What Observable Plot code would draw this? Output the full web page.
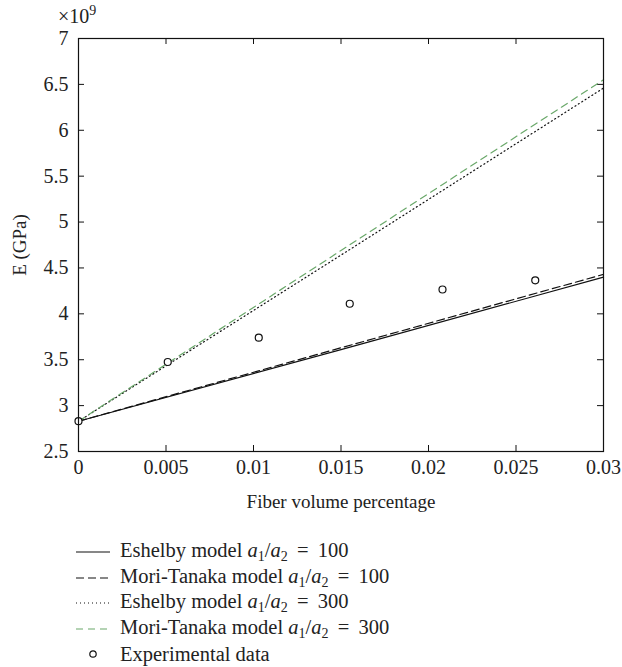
<!DOCTYPE html>
<html>
<head>
<meta charset="utf-8">
<script src="https://cdn.jsdelivr.net/npm/d3@7"></script>
<script src="https://cdn.jsdelivr.net/npm/@observablehq/plot@0.6"></script>
<style>
  body { margin: 0; background: #fff; }
  #wrap { position: relative; width: 622px; height: 667px; font-family: "Liberation Serif", serif; color: #222; overflow: hidden; }
  #wrap svg.plot { position: absolute; left: 0; top: 0; }
  #exp { position: absolute; left: 58px; top: 4px; font-size: 20px; line-height: 1; }
  #exp sup { font-size: 14px; vertical-align: 8px; }
  .row { position: absolute; left: 76px; height: 24px; display: flex; align-items: center; font-size: 20.5px; white-space: nowrap; }
  .row svg { margin-right: 10px; }
  .row sub { font-size: 14px; vertical-align: -4px; }
</style>
</head>
<body>
<div id="wrap"></div>
<script>
// ---- data ----
const xTicks = [0, 0.005, 0.01, 0.015, 0.02, 0.025, 0.03];
const yTicks = [2.5, 3, 3.5, 4, 4.5, 5, 5.5, 6, 6.5, 7];
const modelX = [0, 0.015, 0.03];
const eshelby100 = [2.83, 3.61, 4.40];
const moriTanaka100 = [2.83, 3.63, 4.43];
const eshelby300 = [2.83, 4.64, 6.46];
const moriTanaka300 = [2.83, 4.69, 6.55];
const expX = [0, 0.0051, 0.0103, 0.0155, 0.0208, 0.0261];
const expE = [2.83, 3.475, 3.74, 4.11, 4.265, 4.365];
const seriesLabels = [
  "Eshelby model <i>a</i><sub>1</sub>/<i>a</i><sub>2</sub>&nbsp;&thinsp;=&thinsp;&nbsp;100",
  "Mori-Tanaka model <i>a</i><sub>1</sub>/<i>a</i><sub>2</sub>&nbsp;&thinsp;=&thinsp;&nbsp;100",
  "Eshelby model <i>a</i><sub>1</sub>/<i>a</i><sub>2</sub>&nbsp;&thinsp;=&thinsp;&nbsp;300",
  "Mori-Tanaka model <i>a</i><sub>1</sub>/<i>a</i><sub>2</sub>&nbsp;&thinsp;=&thinsp;&nbsp;300",
  "Experimental data"
];

// ---- styles ----
const styles = [
  {stroke: "#111", dash: null},
  {stroke: "#111", dash: "8,4"},
  {stroke: "#111", dash: "1,3"},
  {stroke: "#6aa86a", dash: "7,5"}
];
const series = [eshelby100, moriTanaka100, eshelby300, moriTanaka300];

const W = 622, H = 530;
const mL = 78, mR = 19, mT = 38, mB = 79;
const innerW = W - mL - mR, innerH = H - mT - mB;

const lineMarks = series.map((vals, i) => {
  const rows = modelX.map((x, j) => ({x, y: vals[j]}));
  return Plot.line(rows, {x: "x", y: "y", stroke: styles[i].stroke, strokeWidth: 1.2,
    strokeDasharray: styles[i].dash});
});

const expRows = expX.map((x, i) => ({x, y: expE[i]}));

const chart = Plot.plot({
  width: W, height: H,
  marginLeft: mL, marginRight: mR, marginTop: mT, marginBottom: mB,
  style: {fontFamily: "Liberation Serif, serif", fontSize: "20px", color: "#222", background: "#fff"},
  x: {domain: [0, 0.03]},
  y: {domain: [2.5, 7]},
  marks: [
    Plot.axisX(xTicks, {tickSize: 0, tickPadding: 8, tickFormat: d => String(d), label: null, fontSize: 20}),
    Plot.axisX({tickSize: 0, ticks: [], label: "Fiber volume percentage", labelAnchor: "center", labelOffset: 56, labelArrow: "none", fontSize: 19}),
    Plot.axisY(yTicks, {tickSize: 0, tickPadding: 10, tickFormat: d => String(d), label: null, fontSize: 20}),
    Plot.axisY({tickSize: 0, ticks: [], label: "E (GPa)", labelAnchor: "center", labelOffset: 66, labelArrow: "none", fontSize: 19}),
    Plot.tickX(xTicks, {x: d => d, insetTop: innerH - 6, stroke: "#111"}),
    Plot.tickX(xTicks, {x: d => d, insetBottom: innerH - 6, stroke: "#111"}),
    Plot.tickY(yTicks, {y: d => d, insetRight: innerW - 6, stroke: "#111"}),
    Plot.tickY(yTicks, {y: d => d, insetLeft: innerW - 6, stroke: "#111"}),
    ...lineMarks,
    Plot.dot(expRows, {x: "x", y: "y", r: 3.5, stroke: "#111", fill: "white", strokeWidth: 1.2}),
    Plot.frame({stroke: "#111", strokeWidth: 1.2})
  ]
});
chart.classList.add("plot");
const wrap = document.getElementById("wrap");
wrap.appendChild(chart);

const ex = document.createElement("div");
ex.id = "exp";
ex.innerHTML = "×10<sup>9</sup>";
wrap.appendChild(ex);

// ---- legend ----
const rowCenters = [552, 577.5, 603, 628.5, 654];
seriesLabels.forEach((lab, i) => {
  const row = document.createElement("div");
  row.className = "row";
  row.style.top = (rowCenters[i] - 12) + "px";
  const sw = d3.create("svg").attr("width", 34).attr("height", 12);
  if (i < 4) {
    sw.append("line").attr("x1", 0).attr("x2", 34).attr("y1", 6).attr("y2", 6)
      .attr("stroke", styles[i].stroke).attr("stroke-width", 1.2)
      .attr("stroke-dasharray", styles[i].dash);
  } else {
    sw.append("circle").attr("cx", 17).attr("cy", 6).attr("r", 3.2)
      .attr("fill", "white").attr("stroke", "#111").attr("stroke-width", 1.2);
  }
  row.appendChild(sw.node());
  const t = document.createElement("span");
  t.innerHTML = lab;
  row.appendChild(t);
  wrap.appendChild(row);
});
</script>
</body>
</html>
